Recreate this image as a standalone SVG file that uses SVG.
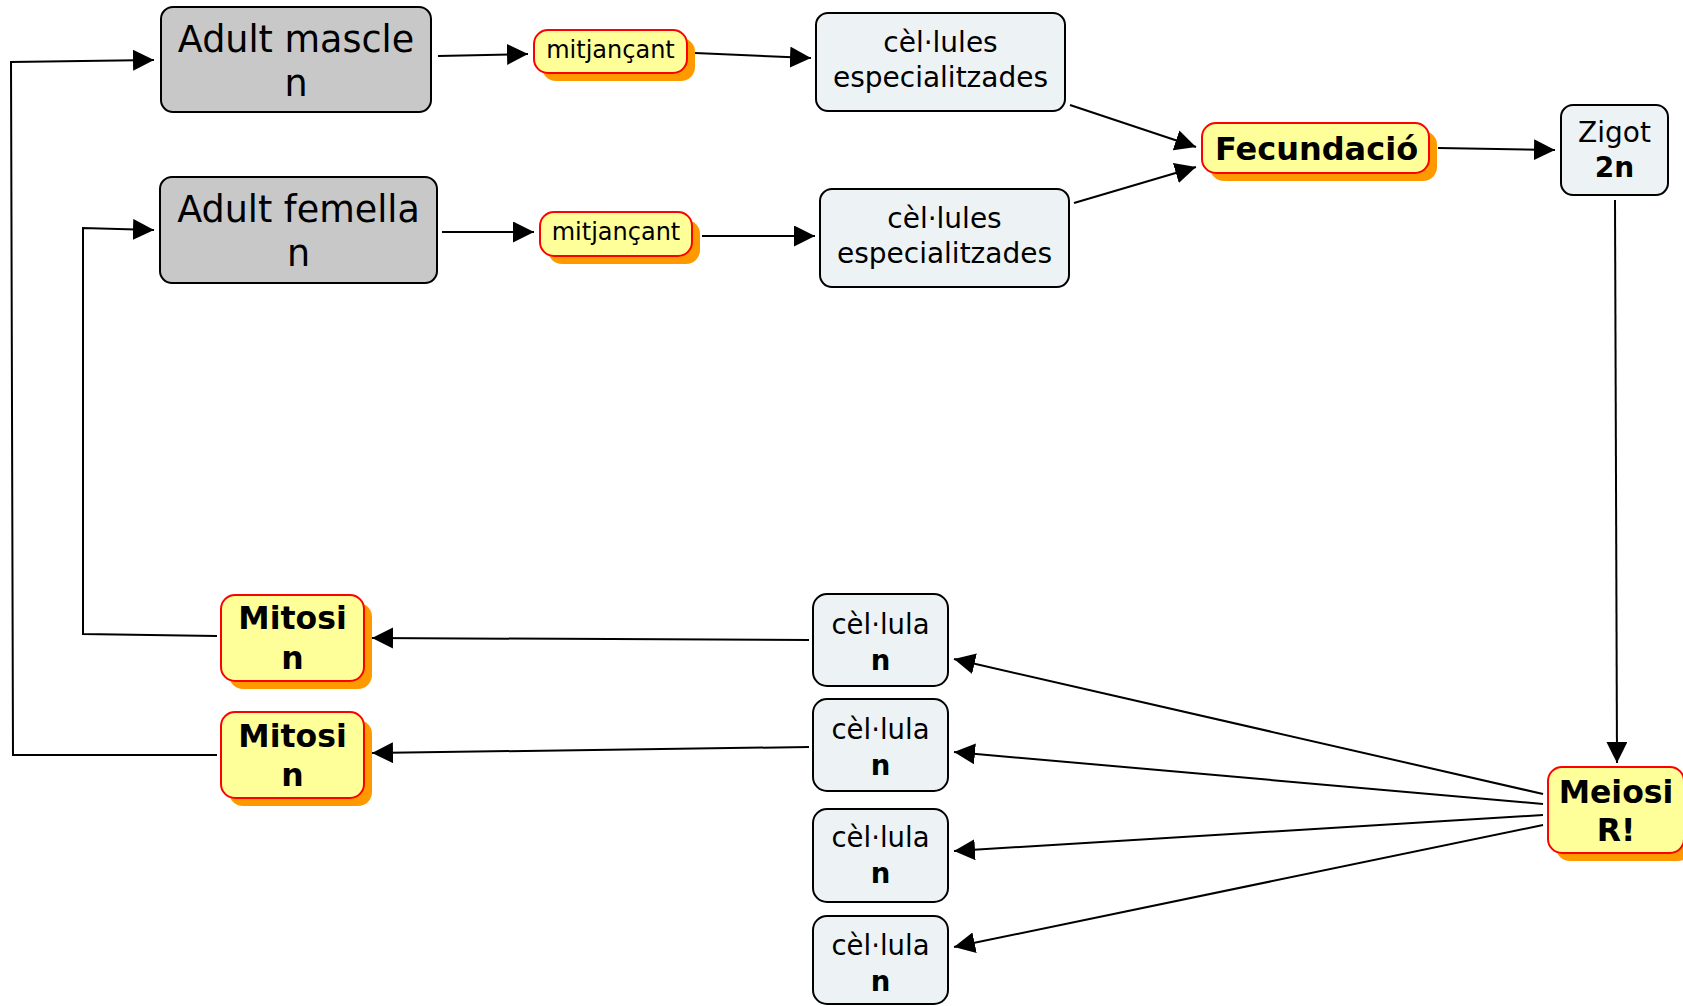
<svg xmlns="http://www.w3.org/2000/svg" width="1683" height="1006" viewBox="0 0 1683 1006">
<style>
.gray{fill:#c8c8c8;stroke:#000;stroke-width:2}
.light{fill:#edf3f5;stroke:#000;stroke-width:2}
.yel{fill:#ffff99;stroke:#ff0000;stroke-width:2}
.sh{fill:#ff9900}
.t{font-family:"DejaVu Sans",Verdana,sans-serif;text-anchor:middle;fill:#000}
.b{font-weight:bold}
.c{fill:none;stroke:#000;stroke-width:2}
</style>
<defs>
<marker id="ah" markerUnits="userSpaceOnUse" markerWidth="22" markerHeight="22" refX="21" refY="10.5" orient="auto" viewBox="0 0 22 22">
<path d="M0,0 L21,10.5 L0,21 z" fill="#000"/>
</marker>
</defs>
<rect width="1683" height="1006" fill="#fff"/>
<g id="connectors">
<path class="c" d="M438,56 L528,54" marker-end="url(#ah)"/>
<path class="c" d="M695,53 L811,58" marker-end="url(#ah)"/>
<path class="c" d="M442,232 L534,232" marker-end="url(#ah)"/>
<path class="c" d="M702,236 L815,236" marker-end="url(#ah)"/>
<path class="c" d="M1070,105 L1196,147" marker-end="url(#ah)"/>
<path class="c" d="M1074,203 L1196,167" marker-end="url(#ah)"/>
<path class="c" d="M1438,148 L1555,150" marker-end="url(#ah)"/>
<path class="c" d="M1615,200 L1617,763" marker-end="url(#ah)"/>
<path class="c" d="M1543,794 L954,659" marker-end="url(#ah)"/>
<path class="c" d="M1543,804 L954,752" marker-end="url(#ah)"/>
<path class="c" d="M1543,815 L954,851" marker-end="url(#ah)"/>
<path class="c" d="M1543,825 L954,947" marker-end="url(#ah)"/>
<path class="c" d="M809,640 L372,638" marker-end="url(#ah)"/>
<path class="c" d="M809,747 L372,753" marker-end="url(#ah)"/>
<path class="c" d="M217,636 L83,634 L83,228 L154,230" marker-end="url(#ah)"/>
<path class="c" d="M217,755 L13,755 L11,62 L154,60" marker-end="url(#ah)"/>
</g>
<g id="adult-mascle">
<rect class="gray" x="161" y="7" width="270" height="105" rx="12"/>
<text class="t" x="296" y="52" font-size="36.5">Adult mascle</text>
<text class="t" x="296" y="96" font-size="36.5">n</text>
</g>
<g id="adult-femella">
<rect class="gray" x="160" y="177" width="277" height="106" rx="12"/>
<text class="t" x="298.5" y="222" font-size="36.5">Adult femella</text>
<text class="t" x="298.5" y="266" font-size="36.5">n</text>
</g>
<g id="mitjancant-1">
<rect class="sh" x="542" y="38" width="153" height="43" rx="14"/>
<rect class="yel" x="534" y="30" width="153" height="43" rx="14"/>
<text class="t" x="610.5" y="58" font-size="24">mitjançant</text>
</g>
<g id="mitjancant-2">
<rect class="sh" x="548" y="220" width="152" height="44" rx="14"/>
<rect class="yel" x="540" y="212" width="152" height="44" rx="14"/>
<text class="t" x="616" y="240" font-size="24">mitjançant</text>
</g>
<g id="cellules-1">
<rect class="light" x="816" y="13" width="249" height="98" rx="12"/>
<text class="t" x="940.5" y="52" font-size="28">cèl·lules</text>
<text class="t" x="940.5" y="87" font-size="28">especialitzades</text>
</g>
<g id="cellules-2">
<rect class="light" x="820" y="189" width="249" height="98" rx="12"/>
<text class="t" x="944.5" y="228" font-size="28">cèl·lules</text>
<text class="t" x="944.5" y="263" font-size="28">especialitzades</text>
</g>
<g id="fecundacio">
<rect class="sh" x="1210" y="131" width="227" height="50" rx="14"/>
<rect class="yel" x="1202" y="123" width="227" height="50" rx="14"/>
<text class="t b" x="1316.5" y="160" font-size="32">Fecundació</text>
</g>
<g id="zigot">
<rect class="light" x="1561" y="105" width="107" height="90" rx="12"/>
<text class="t" x="1614.5" y="142" font-size="28">Zigot</text>
<text class="t b" x="1614.5" y="177" font-size="28">2n</text>
</g>
<g id="meiosi">
<rect class="sh" x="1556" y="775" width="136" height="86" rx="14"/>
<rect class="yel" x="1548" y="767" width="136" height="86" rx="14"/>
<text class="t b" x="1616" y="803" font-size="31.5">Meiosi</text>
<text class="t b" x="1616" y="841" font-size="31.5">R!</text>
</g>
<g id="mitosi-1">
<rect class="sh" x="229" y="603" width="143" height="86" rx="14"/>
<rect class="yel" x="221" y="595" width="143" height="86" rx="14"/>
<text class="t b" x="292.5" y="629" font-size="31.5">Mitosi</text>
<text class="t b" x="292.5" y="669" font-size="31.5">n</text>
</g>
<g id="mitosi-2">
<rect class="sh" x="229" y="720" width="143" height="86" rx="14"/>
<rect class="yel" x="221" y="712" width="143" height="86" rx="14"/>
<text class="t b" x="292.5" y="747" font-size="31.5">Mitosi</text>
<text class="t b" x="292.5" y="786" font-size="31.5">n</text>
</g>
<g id="cellula-1">
<rect class="light" x="813" y="594" width="135" height="92" rx="14"/>
<text class="t" x="880.5" y="634" font-size="27.5">cèl·lula</text>
<text class="t b" x="880.5" y="670" font-size="27.5">n</text>
</g>
<g id="cellula-2">
<rect class="light" x="813" y="699" width="135" height="92" rx="14"/>
<text class="t" x="880.5" y="739" font-size="27.5">cèl·lula</text>
<text class="t b" x="880.5" y="775" font-size="27.5">n</text>
</g>
<g id="cellula-3">
<rect class="light" x="813" y="809" width="135" height="93" rx="14"/>
<text class="t" x="880.5" y="847" font-size="27.5">cèl·lula</text>
<text class="t b" x="880.5" y="883" font-size="27.5">n</text>
</g>
<g id="cellula-4">
<rect class="light" x="813" y="916" width="135" height="88" rx="14"/>
<text class="t" x="880.5" y="955" font-size="27.5">cèl·lula</text>
<text class="t b" x="880.5" y="991" font-size="27.5">n</text>
</g>
</svg>
